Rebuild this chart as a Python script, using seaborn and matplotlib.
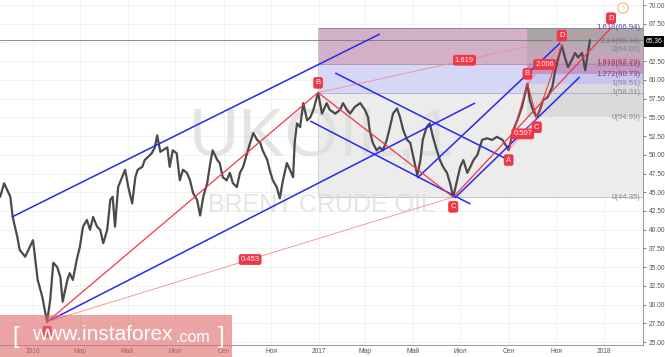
import pandas as pd
import numpy as np
import matplotlib
matplotlib.use("Agg")
import matplotlib.pyplot as plt
from matplotlib.patches import Rectangle
import seaborn as sns

base = pd.Timestamp("2016-01-01")

# price path (days counted from 2016-01-01)
price_days = [-42, -37, -29, -26, -20, -17, -10, -4, 0, 3,
              6, 12, 15, 18, 22, 26, 31, 35, 38, 44,
              47, 51, 56, 60, 64, 69, 73, 77, 82, 86,
              90, 95, 99, 102, 105, 109, 114, 118, 122, 127,
              131, 134, 140, 143, 147, 152, 156, 159, 163, 172,
              175, 179, 184, 188, 192, 197, 201, 205, 210, 214,
              218, 223, 227, 230, 236, 239, 243, 248, 252, 256,
              261, 265, 269, 274, 278, 282, 287, 291, 294, 300,
              303, 307, 312, 316, 320, 325, 329, 333, 335, 338,
              342, 346, 351, 355, 359, 365, 370, 376, 380, 387,
              393, 397, 402, 406, 412, 419, 425, 429, 431, 435,
              440, 444, 448, 453, 457, 461, 466, 470, 474, 479,
              483, 487, 492, 496, 499, 504, 508, 512, 517, 521,
              525, 530, 534, 538, 543, 547, 551, 556, 560, 564,
              569, 575, 581, 588, 594, 601, 607, 609, 615, 620,
              626, 633, 636, 640, 645, 649, 653, 659, 665, 668,
              672, 677, 681, 685, 690, 694, 698, 703, 707, 711,
              713]
price_vals = [44.4, 46.2, 44.4, 41.7, 39.0, 37.3, 36.4, 37.7, 38.6, 36.0,
              33.3, 31.0, 29.3, 27.7, 30.6, 35.6, 35.0, 33.7, 30.4, 33.3,
              34.2, 33.3, 36.0, 37.7, 40.4, 41.3, 40.0, 41.7, 40.4, 40.0,
              38.2, 40.0, 44.0, 44.4, 40.4, 45.7, 47.0, 48.0, 45.7, 43.5,
              47.0, 48.0, 48.4, 49.3, 49.7, 50.2, 51.0, 52.6, 50.4, 51.0,
              48.4, 50.6, 50.2, 46.6, 48.0, 47.6, 46.6, 44.9, 44.0, 41.9,
              44.4, 46.2, 48.9, 50.6, 49.3, 48.9, 47.0, 46.6, 47.6, 46.2,
              45.7, 47.6, 48.4, 50.2, 51.6, 52.9, 52.0, 51.6, 50.6, 49.3,
              48.0, 46.6, 45.7, 44.2, 46.6, 48.9, 48.0, 47.0, 51.6, 54.2,
              53.7, 56.9, 54.6, 55.0, 56.0, 58.3, 55.5, 56.9, 56.0, 55.5,
              56.0, 56.9, 56.0, 55.5, 56.4, 56.9, 56.0, 55.0, 53.3, 51.6,
              50.6, 51.0, 50.6, 52.0, 53.7, 55.5, 56.2, 55.0, 53.3, 52.0,
              51.6, 49.7, 47.3, 49.3, 52.0, 53.7, 54.2, 52.4, 50.6, 49.3,
              48.4, 47.6, 46.2, 44.35, 46.6, 48.4, 49.3, 47.6, 48.4, 49.3,
              50.0, 52.0, 52.2, 52.0, 52.4, 52.0, 51.0, 50.6, 53.3, 54.6,
              56.4, 59.5, 57.3, 56.0, 55.0, 56.0, 57.3, 57.7, 59.1, 60.9,
              62.7, 64.6, 63.0, 61.7, 62.7, 63.6, 63.0, 63.6, 61.3, 64.0,
              65.3]
last_price = 65.36

# ABCD patterns (day, price)
letters = ["A", "B", "C", "D"]
big_days = [18, 365, 538, 740]
big_prices = [27.7, 58.31, 44.35, 66.94]
big_ratios = ["0.453", "1.619"]
small_days = [609, 633, 645, 677]
small_prices = [50.6, 59.51, 54.99, 64.6]
small_ratios = ["0.507", "2.006"]

# fibonacci zones
big_fib = [44.35, 58.31, 62.11, 66.94]
big_fib_colors = ["#ececec", "#d6d6f6", "#d2b0c8"]
small_fib = [54.99, 59.51, 60.73, 62.29, 64.02, 65.10, 66.94]
small_fib_colors = ["#dadada", "#c6c6ee", "#bf98c6", "#c4a6bc", "#b8aab4", "#aaa4a6"]
fib_labels = ["1.618(66.94)", "2.24(65.10)", "2(64.02)", "1.618(62.29)", "1.272(62.11)",
              "1.272(60.73)", "1(59.51)", "1(58.31)", "0(54.99)", "0(44.35)"]
fib_label_prices = [66.94, 65.10, 64.02, 62.29, 62.11, 60.73, 59.51, 58.31, 54.99, 44.35]
fib_label_colors = ["#4a4a9a", "#8a7090", "#6f8f80", "#c03a5a", "#a04a78",
                    "#8a3a70", "#8888aa", "#8c8c8c", "#8c8c8c", "#8c8c8c"]

# trend lines ((day, price), (day, price))
blue_lines = [((-27, 41.70), (444, 66.13)),
              ((18, 27.7), (566, 56.92)),
              ((387, 60.92), (604, 49.57)),
              ((355, 54.51), (560, 43.43)),
              ((492, 46.90), (675, 64.93)),
              ((540, 44.23), (700, 60.39))]

tick_dates = ["2016-01-01", "2016-03-01", "2016-05-01", "2016-07-01", "2016-09-01", "2016-11-01",
              "2017-01-01", "2017-03-01", "2017-05-01", "2017-07-01", "2017-09-01", "2017-11-01",
              "2018-01-01"]
tick_labels = ["2016", "Мар", "Май", "Июл", "Сен", "Ноя", "2017", "Мар", "Май", "Июл", "Сен", "Ноя", "2018"]
y_ticks = [25.0, 27.5, 30.0, 32.5, 35.0, 37.5, 40.0, 42.5, 45.0, 47.5, 50.0, 52.5,
           55.0, 57.5, 60.0, 62.5, 65.0, 67.5, 70.0]


def day(d):
    return base + pd.Timedelta(days=d)


sns.set_style("white")
plt.rcParams["font.family"] = ["Liberation Sans", "DejaVu Sans"]

fig = plt.figure(figsize=(6.65, 3.57), dpi=100)
ax = fig.add_axes([0, 12 / 357, 643 / 665, 345 / 357])

xmin, xmax = day(-42.25), day(781)
ax.set_xlim(xmin, xmax)
ax.set_ylim(24.61, 70.67)

# watermark
ax.text(0.5, 0.60, "UKOIL,1", transform=ax.transAxes, ha="center", va="center",
        fontsize=50, color="#dedede", alpha=0.8, zorder=1.5)
ax.text(0.5, 0.405, "BRENT CRUDE OIL", transform=ax.transAxes, ha="center", va="center",
        fontsize=18, color="#dedede", alpha=0.8, zorder=1.5)

# fib zones
bstart = day(big_days[1])
for lo, hi, c in zip(big_fib[:-1], big_fib[1:], big_fib_colors):
    ax.fill_between([bstart, xmax], lo, hi, color=c, lw=0, zorder=1)
sstart = day(small_days[1])
for lo, hi, c in zip(small_fib[:-1], small_fib[1:], small_fib_colors):
    ax.fill_between([sstart, xmax], lo, hi, color=c, lw=0, zorder=1.1)
ax.hlines(big_fib, bstart, xmax, colors=["#bbbbbb", "#a8a8d8", "#b08aa8", "#8a7a9a"], lw=0.6, zorder=1.2)
ax.plot([bstart, bstart], [big_fib[0], big_fib[-1]], color="#cccccc", lw=0.5, zorder=1.2)

trans = ax.get_yaxis_transform()
for lab, p, c in zip(fib_labels, fib_label_prices, fib_label_colors):
    ax.text(0.996, p, lab, transform=trans, ha="right", va="center", fontsize=5.6, color=c, zorder=6)

# current price line
ax.axhline(last_price, color="#7a7a7a", lw=0.6, zorder=2)

# price
df = pd.DataFrame({"date": [day(d) for d in price_days], "price": price_vals})
sns.lineplot(data=df, x="date", y="price", ax=ax, color="#4a4a4a", lw=1.6, zorder=4)

# blue trend lines
for (d0, p0), (d1, p1) in blue_lines:
    ax.plot([day(d0), day(d1)], [p0, p1], color="#2828ee", lw=1.1, zorder=5, solid_capstyle="butt")

# ABCD patterns
red = "#f23645"
for days, prices, ratios, lws in [(big_days, big_prices, big_ratios, 0.9),
                                  (small_days, small_prices, small_ratios, 0.8)]:
    dts = [day(d) for d in days]
    ax.plot(dts, prices, color=red, lw=lws, zorder=5.5)
    for i, j, r in [(0, 2, ratios[0]), (1, 3, ratios[1])]:
        ax.plot([dts[i], dts[j]], [prices[i], prices[j]], color="#f58a94", lw=0.6, zorder=5.4)
        mid = dts[i] + (dts[j] - dts[i]) / 2
        ax.text(mid, (prices[i] + prices[j]) / 2, r, ha="center", va="center", fontsize=5.5,
                color="white", zorder=7,
                bbox=dict(boxstyle="round,pad=0.25,rounding_size=0.3", fc=red, ec="none"))
    for k, (dt, p) in enumerate(zip(dts, prices)):
        off = -7 if k % 2 == 0 else 7
        ax.annotate(letters[k], xy=(dt, p), xytext=(0, off), textcoords="offset points",
                    ha="center", va="center", fontsize=5.5, color="white", zorder=7,
                    bbox=dict(boxstyle="round,pad=0.3,rounding_size=0.3", fc=red, ec="none"))

# axes styling
ax.set_xticks(pd.to_datetime(tick_dates))
ax.set_xticklabels(tick_labels)
ax.set_yticks(y_ticks)
# 65.00 sits under the last-price tag
ax.set_yticklabels(["" if v == 65.0 else f"{v:.2f}" for v in y_ticks])
ax.yaxis.tick_right()
ax.tick_params(axis="y", labelsize=4.8, colors="#555555", length=2, width=0.5, pad=2)
ax.tick_params(axis="x", labelsize=4.8, colors="#555555", length=0, pad=2)
ax.set_xlabel("")
ax.set_ylabel("")
ax.grid(True, color="#f0f0f0", lw=0.6)
ax.set_axisbelow(True)
for s in ["top", "left"]:
    ax.spines[s].set_visible(False)
for s in ["right", "bottom"]:
    ax.spines[s].set_color("#8a8a8a")
    ax.spines[s].set_linewidth(0.6)

# last price tag
fig.text(654 / 665, 1 - 41.7 / 357, f"{last_price:.2f}", ha="center", va="center", fontsize=4.8,
         color="white", bbox=dict(boxstyle="square,pad=0.3", fc="black", ec="none"))

# alert icon
fig.text(623 / 665, 1 - 8 / 357, "!", ha="center", va="center", fontsize=5, color="#f0a040",
         bbox=dict(boxstyle="circle,pad=0.25", fc="white", ec="#f0a040", lw=0.6))

# instaforex banner
fig.add_artist(Rectangle((0, 0), 232 / 665, 42 / 357, transform=fig.transFigure,
                         fc="#e06a6a", ec="none", alpha=0.6, zorder=10))
fig.text(12 / 665, 20 / 357, "[", fontsize=17, color="white", va="center", zorder=11)
fig.text(32 / 665, 22 / 357, "www.instaforex", fontsize=15, color="white", va="center", zorder=11)
fig.text(176 / 665, 20 / 357, ".com", fontsize=11.5, color="white", va="center", zorder=11)
fig.text(218 / 665, 20 / 357, "]", fontsize=17, color="white", va="center", zorder=11)

fig.savefig("out.png", dpi=100)
